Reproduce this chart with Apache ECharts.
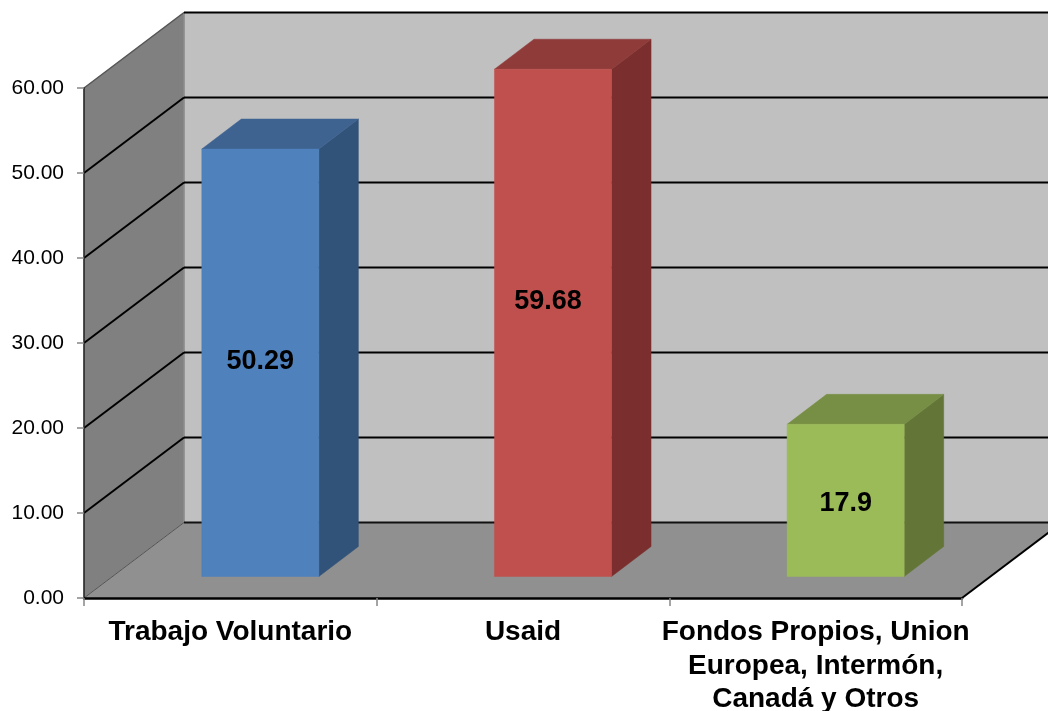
<!DOCTYPE html>
<html>
<head>
<meta charset="utf-8">
<style>html,body{margin:0;padding:0;background:#fff}#c{width:1048px;height:711px}</style>
<script src="https://cdn.jsdelivr.net/npm/echarts@6/dist/echarts.min.js"></script>
</head>
<body>
<div id="c"></div>
<script>
const categories = ['Trabajo Voluntario', 'Usaid', 'Fondos Propios, Union\nEuropea, Intermón,\nCanadá y Otros'];
const values = [50.29, 59.68, 17.9];
const valueLabels = ['50.29', '59.68', '17.9'];
const gridValues = [0, 10, 20, 30, 40, 50, 60];

const wallDepth = [100, -75.5];
const barDepth = [39.5, -30];
const barShift = [30, -21.5];
const labelNudge = [[0, -1], [-5, -21], [0, 3]];
const faces = [
  { front: '#4f81bd', top: '#3e6391', side: '#315279' },
  { front: '#c0504d', top: '#8f3b39', side: '#7a2f2e' },
  { front: '#9bbb59', top: '#778f45', side: '#637637' }
];

function poly(points, fill, z2) {
  return { type: 'polygon', z2: z2 || 0, shape: { points: points }, style: { fill: fill, stroke: fill, lineWidth: 0.5 } };
}
function seg(a, b, color, w, z2) {
  return { type: 'line', z2: z2 || 1, shape: { x1: a[0], y1: a[1], x2: b[0], y2: b[1] }, style: { stroke: color, lineWidth: w } };
}

function renderWalls(params, api) {
  const v = api.value(0);
  const cs = params.coordSys;
  const y = api.coord([0, v])[1];
  const l = cs.x, r = cs.x + cs.width;
  const dx = wallDepth[0], dy = wallDepth[1];
  const children = [];
  if (v === gridValues[0]) {
    const top = api.coord([0, gridValues[gridValues.length - 1]])[1];
    children.push(poly([[l + dx, top + dy], [r + dx, top + dy], [r + dx, y + dy], [l + dx, y + dy]], '#c0c0c0'));
    children.push(poly([[l, top], [l + dx, top + dy], [l + dx, y + dy], [l, y]], '#808080'));
    children.push(poly([[l, y], [l + dx, y + dy], [r + dx, y + dy], [r, y]], '#909090'));
    children.push(seg([l + dx, top + dy], [l + dx, y + dy], '#8c8c8c', 1.5, 1));
    children.push(seg([l, y], [l + dx, y + dy], '#555555', 1, 2));
    children.push(seg([r, y], [r + dx, y + dy], '#000000', 2, 2));
    children.push(seg([l + dx, y + dy], [r + dx, y + dy], '#111111', 2, 2));
  } else if (v === gridValues[gridValues.length - 1]) {
    children.push(seg([l, y], [l + dx, y + dy], '#555555', 1.5, 2));
    children.push(seg([l + dx, y + dy], [r + dx, y + dy], '#000000', 2, 2));
  } else {
    children.push(seg([l, y], [l + dx, y + dy], '#000000', 2, 2));
    children.push(seg([l + dx, y + dy], [r + dx, y + dy], '#000000', 2, 2));
  }
  return { type: 'group', children: children };
}

function renderBar(params, api) {
  const i = api.value(0), v = api.value(1);
  const base = api.coord([i, 0]);
  const peak = api.coord([i, v]);
  const w = api.size([1, 0])[0] * 0.4;
  const x0 = base[0] + barShift[0] - w / 2, x1 = x0 + w;
  const y0 = base[1] + barShift[1], y1 = peak[1] + barShift[1];
  const dx = barDepth[0], dy = barDepth[1];
  const c = faces[i];
  const n = labelNudge[i];
  return {
    type: 'group',
    children: [
      poly([[x1, y1], [x1 + dx, y1 + dy], [x1 + dx, y0 + dy], [x1, y0]], c.side),
      poly([[x0, y1], [x0 + dx, y1 + dy], [x1 + dx, y1 + dy], [x1, y1]], c.top),
      poly([[x0, y1], [x1, y1], [x1, y0], [x0, y0]], c.front),
      {
        type: 'text', z2: 5,
        style: {
          x: (x0 + x1) / 2 + n[0], y: (y0 + y1) / 2 + n[1],
          text: valueLabels[i], fill: '#000',
          font: 'bold 27px "Liberation Sans", Arial, sans-serif',
          textAlign: 'center', textVerticalAlign: 'middle'
        }
      }
    ]
  };
}

const chart = echarts.init(document.getElementById('c'), null, { renderer: 'canvas' });
chart.setOption({
  animation: false,
  backgroundColor: '#ffffff',
  grid: { left: 84, right: 86, top: 88, height: 510, containLabel: false, outerBoundsMode: 'none' },
  xAxis: {
    type: 'category', data: categories, z: 10,
    axisLine: { show: true, lineStyle: { color: '#000', width: 2.5 } },
    axisTick: { show: true, length: 8, alignWithLabel: false, lineStyle: { color: '#868686', width: 1.5 } },
    splitLine: { show: false },
    axisLabel: {
      interval: 0, margin: 18, color: '#000', fontWeight: 'bold', fontSize: 28,
      fontFamily: '"Liberation Sans", Arial, sans-serif', lineHeight: 33.5, align: 'center', hideOverlap: false
    }
  },
  yAxis: {
    type: 'value', min: 0, max: 60, interval: 10, z: 10,
    axisLine: { show: true, lineStyle: { color: '#222', width: 1.5 } },
    axisTick: { show: true, length: 7, lineStyle: { color: '#868686', width: 1.5 } },
    splitLine: { show: false },
    axisLabel: {
      margin: 20, color: '#000', fontSize: 21, padding: [6, 0, 0, 0], verticalAlign: 'middle',
      fontFamily: '"Liberation Sans", Arial, sans-serif',
      formatter: function (v) { return v.toFixed(2); }
    }
  },
  series: [
    { type: 'custom', z: 1, silent: true, clip: false, coordinateSystem: 'cartesian2d',
      encode: { y: 0 }, data: gridValues.map(function (v) { return [v]; }), renderItem: renderWalls },
    { type: 'custom', z: 3, silent: true, clip: false, coordinateSystem: 'cartesian2d',
      encode: { x: 0, y: 1 }, data: values.map(function (v, i) { return [i, v]; }), renderItem: renderBar }
  ]
});
</script>
</body>
</html>
